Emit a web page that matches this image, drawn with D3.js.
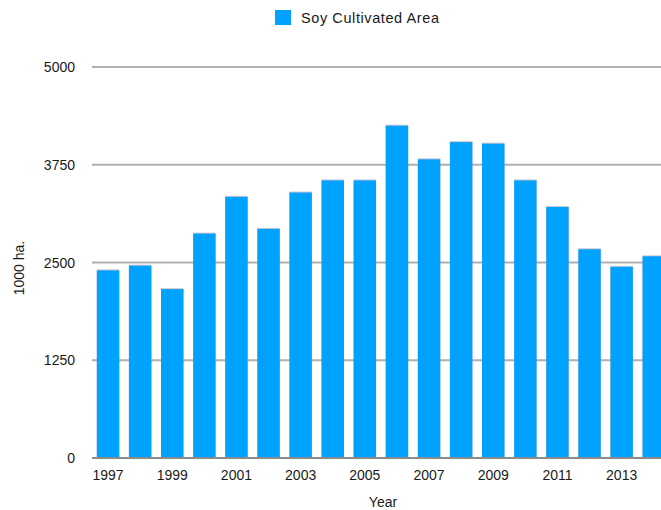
<!DOCTYPE html>
<html>
<head>
<meta charset="utf-8">
<script src="https://cdn.jsdelivr.net/npm/d3@7"></script>
<style>
  html, body { margin: 0; padding: 0; background: #fff; }
  svg { display: block; font-family: "Liberation Sans", Arial, Helvetica, sans-serif; }
</style>
</head>
<body>
<svg id="chart" width="661" height="510"></svg>
<script>
const years = ["1997","1998","1999","2000","2001","2002","2003","2004","2005","2006","2007","2008","2009","2010","2011","2012","2013","2014"];
const soyArea = [2400, 2460, 2160, 2870, 3340, 2930, 3395, 3550, 3550, 4250, 3820, 4040, 4020, 3550, 3210, 2670, 2445, 2580];
const yTicks = [0, 1250, 2500, 3750, 5000];
const xTickLabels = ["1997","1999","2001","2003","2005","2007","2009","2011","2013"];
const seriesName = "Soy Cultivated Area";
const xTitle = "Year";
const yTitle = "1000 ha.";

const W = 661, H = 510;
const plotLeft = 92, plotRight = 661;
const svg = d3.select("#chart");

const defs = svg.append("defs");
const f = defs.append("filter").attr("id", "shadow").attr("x", "-10%").attr("y", "-10%").attr("width", "120%").attr("height", "120%");
f.append("feDropShadow").attr("dx", 0).attr("dy", -0.6).attr("stdDeviation", 0.6)
  .attr("flood-color", "#666").attr("flood-opacity", 0.55);

const y = d3.scaleLinear().domain([0, 5000]).range([458, 67]);
const x = d3.scaleBand().domain(years).range([plotLeft, plotLeft + 32.1 * 18])
  .paddingInner(0.3).paddingOuter(0.15);

// gridlines
svg.append("g").selectAll("line").data(yTicks.filter(d => d > 0)).join("line")
  .attr("x1", plotLeft).attr("x2", plotRight)
  .attr("y1", d => y(d)).attr("y2", d => y(d))
  .attr("stroke", "#b0b0b0").attr("stroke-width", 2);

// bars
svg.append("g").selectAll("rect").data(years).join("rect")
  .attr("x", d => x(d))
  .attr("width", x.bandwidth())
  .attr("y", (d, i) => y(soyArea[i]))
  .attr("height", (d, i) => y(0) - y(soyArea[i]))
  .attr("fill", "#00a2ff")
  .attr("filter", "url(#shadow)");

// baseline
svg.append("line").attr("x1", plotLeft).attr("x2", plotRight)
  .attr("y1", y(0)).attr("y2", y(0)).attr("stroke", "#8c8c8c").attr("stroke-width", 2);

// y tick labels
svg.append("g").selectAll("text").data(yTicks).join("text")
  .attr("x", 75).attr("y", d => y(d) + 5)
  .attr("text-anchor", "end").attr("font-size", 14).attr("fill", "#1a1a1a")
  .text(d => d);

// x tick labels
svg.append("g").selectAll("text").data(xTickLabels).join("text")
  .attr("x", d => x(d) + x.bandwidth() / 2).attr("y", 480)
  .attr("text-anchor", "middle").attr("font-size", 14).attr("fill", "#1a1a1a")
  .text(d => d);

// axis titles
svg.append("text").attr("x", 383).attr("y", 507).attr("text-anchor", "middle")
  .attr("font-size", 14).attr("fill", "#1a1a1a").text(xTitle);
svg.append("text").attr("transform", "translate(24,268) rotate(-90)").attr("text-anchor", "middle")
  .attr("font-size", 14).attr("fill", "#1a1a1a").text(yTitle);

// legend
svg.append("rect").attr("x", 275).attr("y", 10).attr("width", 16).attr("height", 15).attr("fill", "#00a2ff");
svg.append("text").attr("x", 301).attr("y", 23).attr("font-size", 14.5).attr("fill", "#1a1a1a")
  .attr("textLength", 138).attr("lengthAdjust", "spacing").text(seriesName);
</script>
</body>
</html>
